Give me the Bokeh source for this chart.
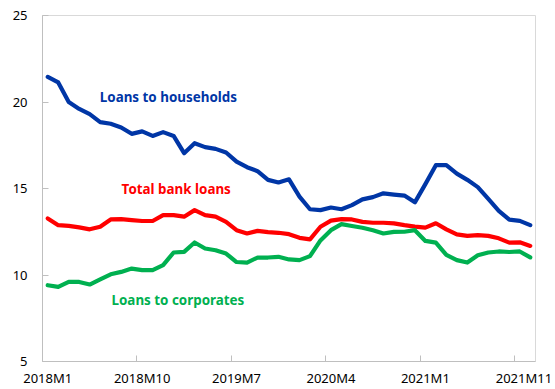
from bokeh.plotting import figure
from bokeh.models import Range1d, FixedTicker, Label
from bokeh.embed import file_html
from bokeh.resources import INLINE

# Monthly series, 2018M1 .. 2021M11 (percent)
households = [21.45, 21.13, 20.0, 19.6, 19.3, 18.84, 18.74, 18.53, 18.16, 18.3,
              18.04, 18.26, 18.04, 17.04, 17.62, 17.39, 17.29, 17.08, 16.55, 16.23,
              16.0, 15.5, 15.35, 15.53, 14.53, 13.8, 13.75, 13.9, 13.8, 14.04,
              14.37, 14.5, 14.72, 14.65, 14.59, 14.2, 15.25, 16.35, 16.35, 15.86,
              15.5, 15.08, 14.4, 13.7, 13.2, 13.13, 12.88]
total_loans = [13.27, 12.88, 12.84, 12.75, 12.64, 12.79, 13.21, 13.23, 13.17, 13.12,
               13.12, 13.46, 13.46, 13.37, 13.75, 13.46, 13.37, 13.07, 12.59, 12.4,
               12.55, 12.48, 12.44, 12.36, 12.15, 12.06, 12.79, 13.14, 13.23, 13.21,
               13.07, 13.02, 13.02, 12.98, 12.88, 12.8, 12.74, 12.99, 12.64, 12.35,
               12.26, 12.3, 12.26, 12.12, 11.87, 11.89, 11.68]
corporates = [9.41, 9.31, 9.6, 9.6, 9.45, 9.75, 10.04, 10.18, 10.37, 10.28,
              10.28, 10.57, 11.3, 11.34, 11.88, 11.53, 11.43, 11.24, 10.75, 10.72,
              11.01, 11.01, 11.05, 10.9, 10.86, 11.09, 12.0, 12.59, 12.94, 12.83,
              12.73, 12.59, 12.4, 12.49, 12.5, 12.59, 11.97, 11.87, 11.16, 10.86,
              10.72, 11.14, 11.3, 11.36, 11.33, 11.36, 11.02]
x = list(range(len(households)))

tick_labels = ["2018M1", "2018M10", "2019M7", "2020M4", "2021M1", "2021M11"]
label_index = [0, 9, 18, 27, 36, 45]   # category each label sits under
y_ticks = [5, 10, 15, 20, 25]

# labels centred on their category (first/last nudged to stay in range, as in the source)
label_positions = [max(i, -0.45) for i in label_index]
label_positions[-1] = label_index[-1] + 0.4
# tick marks fall on the category boundary just before each labelled category
tickmark_positions = [i - 0.5 for i in label_index[1:]]

BLUE = "#0036a6"
RED = "#ff0000"
GREEN = "#00b050"
FONT = "Noto Sans"

p = figure(width=555, height=389, output_backend="svg", toolbar_location=None,
           x_range=Range1d(-0.5, len(x) - 0.5), y_range=Range1d(5, 25),
           min_border_left=42, min_border_top=15, min_border_right=20,
           min_border_bottom=27)
p.grid.visible = False
p.outline_line_color = "#d9d9d9"
p.outline_line_width = 1
p.background_fill_color = "white"
p.border_fill_color = "white"

for vals, col in ((households, BLUE), (total_loans, RED), (corporates, GREEN)):
    p.line(x, vals, line_color=col, line_width=4.2, line_join="round", line_cap="round")

xa = p.xaxis[0]
xa.ticker = FixedTicker(ticks=label_positions, minor_ticks=tickmark_positions)
xa.major_label_overrides = {pos: lab for pos, lab in zip(label_positions, tick_labels)}
xa.major_tick_line_color = None
xa.major_tick_in = 0
xa.major_tick_out = 0
xa.minor_tick_in = 6
xa.minor_tick_out = 0
xa.minor_tick_line_color = "#bfbfbf"
xa.axis_line_color = "#bfbfbf"
xa.major_label_standoff = 7
xa.major_label_text_font = FONT
xa.major_label_text_font_size = "13px"
xa.major_label_text_color = "#000000"

ya = p.yaxis[0]
ya.ticker = FixedTicker(ticks=y_ticks)
ya.minor_tick_line_color = None
ya.minor_tick_in = 0
ya.minor_tick_out = 0
ya.major_tick_in = 6
ya.major_tick_out = 0
ya.major_tick_line_color = "#bfbfbf"
ya.axis_line_color = "#bfbfbf"
ya.major_label_standoff = 15
ya.major_label_text_font = FONT
ya.major_label_text_font_size = "13px"
ya.major_label_text_color = "#000000"

for txt, lx, ly, col in (("Loans to households", 4.96, 20.3, BLUE),
                         ("Total bank loans", 7.04, 15.0, RED),
                         ("Loans to corporates", 6.08, 8.57, GREEN)):
    p.add_layout(Label(x=lx, y=ly, text=txt, text_color=col, text_font=FONT,
                       text_font_size="13.4px", text_font_style="bold",
                       text_align="left", text_baseline="middle"))

open("out.html", "w").write(file_html(p, INLINE))
